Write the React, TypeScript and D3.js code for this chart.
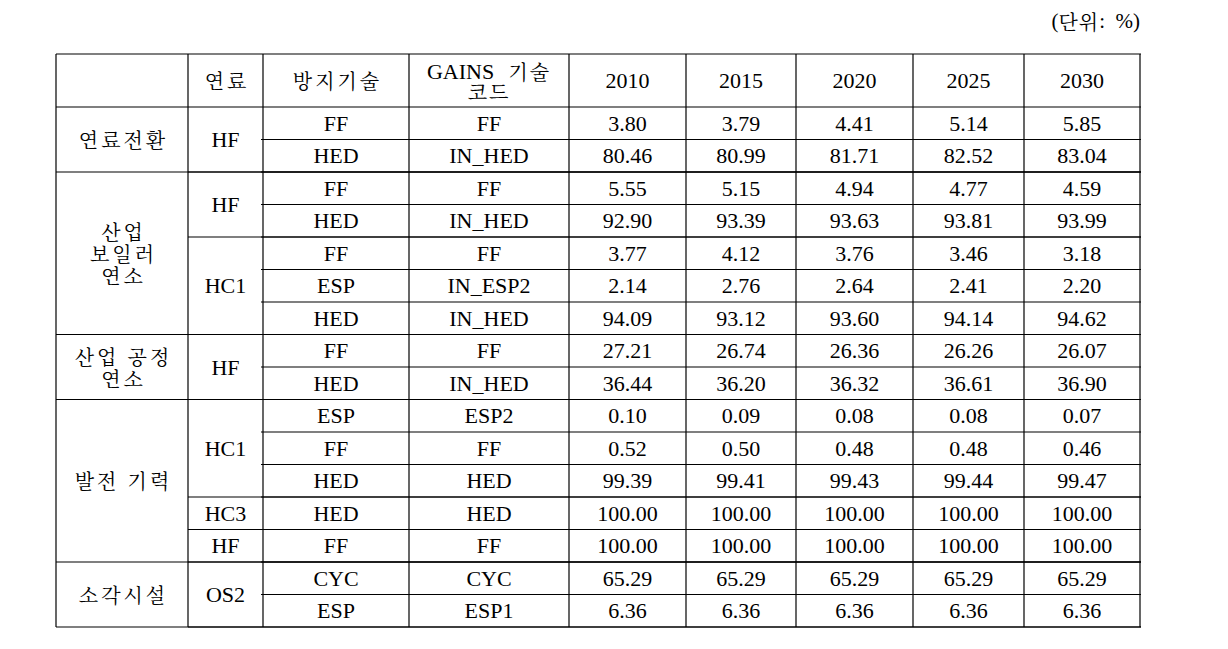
import React from 'react';
import * as d3 from 'd3';

// table content
const headers = ['', '연료', '방지기술', 'GAINS 기술|코드', '2010', '2015', '2020', '2025', '2030'];
const years = ['2010', '2015', '2020', '2025', '2030'];

const groups = [
  {name: ['연료전환'], rows: 2},
  {name: ['산업', '보일러', '연소'], rows: 5},
  {name: ['산업 공정', '연소'], rows: 2},
  {name: ['발전 기력'], rows: 5},
  {name: ['소각시설'], rows: 2},
];

const fuels = [
  {name: 'HF', rows: 2},
  {name: 'HF', rows: 2},
  {name: 'HC1', rows: 3},
  {name: 'HF', rows: 2},
  {name: 'HC1', rows: 3},
  {name: 'HC3', rows: 1},
  {name: 'HF', rows: 1},
  {name: 'OS2', rows: 2},
];

const techs = ['FF', 'HED', 'FF', 'HED', 'FF', 'ESP', 'HED', 'FF', 'HED', 'ESP', 'FF', 'HED', 'HED', 'FF', 'CYC', 'ESP'];
const codes = ['FF', 'IN_HED', 'FF', 'IN_HED', 'FF', 'IN_ESP2', 'IN_HED', 'FF', 'IN_HED', 'ESP2', 'FF', 'HED', 'HED', 'FF', 'CYC', 'ESP1'];

const v2010 = [3.80, 80.46, 5.55, 92.90, 3.77, 2.14, 94.09, 27.21, 36.44, 0.10, 0.52, 99.39, 100, 100, 65.29, 6.36];
const v2015 = [3.79, 80.99, 5.15, 93.39, 4.12, 2.76, 93.12, 26.74, 36.20, 0.09, 0.50, 99.41, 100, 100, 65.29, 6.36];
const v2020 = [4.41, 81.71, 4.94, 93.63, 3.76, 2.64, 93.60, 26.36, 36.32, 0.08, 0.48, 99.43, 100, 100, 65.29, 6.36];
const v2025 = [5.14, 82.52, 4.77, 93.81, 3.46, 2.41, 94.14, 26.26, 36.61, 0.08, 0.48, 99.44, 100, 100, 65.29, 6.36];
const v2030 = [5.85, 83.04, 4.59, 93.99, 3.18, 2.20, 94.62, 26.07, 36.90, 0.07, 0.46, 99.47, 100, 100, 65.29, 6.36];
const values = [v2010, v2015, v2020, v2025, v2030];

const colEdges = [56, 188, 263, 409, 569, 686, 796, 913, 1024, 1140];
const top = 54, headBottom = 107, bottom = 627;

const latin = 'Liberation Serif';
const korean = 'Noto Serif CJK KR';
const koSpacing = 3;

export default function App() {
  const nRows = techs.length;
  const y = d3.scaleLinear().domain([0, nRows]).range([headBottom, bottom]);
  const cx = (i: number) => (colEdges[i] + colEdges[i + 1]) / 2;
  const fmt = d3.format('.2f');

  const lines: any[] = [];
  const texts: any[] = [];

  const isKo = (s: string) => /[\uac00-\ud7a3]/.test(s);
  const kStyle = {fontFamily: korean, fontSize: 20, letterSpacing: koSpacing};
  const lStyle = {fontFamily: latin, fontSize: 22};

  const hline = (key: string, x1: number, x2: number, yy: number) =>
    lines.push(<line key={key} x1={x1} x2={x2} y1={yy} y2={yy} stroke="#000" strokeWidth={1.2} />);

  const cellText = (key: string, x: number, yc: number, parts: string[], lh = 22) => {
    const n = parts.length;
    parts.forEach((p, k) => {
      const ko = isKo(p);
      texts.push(
        <text key={key + '-' + k} x={ko ? x + koSpacing / 2 : x} y={yc + (k - (n - 1) / 2) * lh} textAnchor="middle"
          dominantBaseline="central" fill="#000" style={ko ? kStyle : lStyle}>
          {p}
        </text>
      );
    });
  };

  // header
  headers.forEach((h, i) => {
    if (!h) return;
    if (h.includes('|')) {
      h.split('|').forEach((p, k) => {
        texts.push(
          <text key={'h' + i + '-' + k} x={cx(i)} y={(top + headBottom) / 2 + (k - 0.5) * 20} textAnchor="middle"
            dominantBaseline="central" fill="#000" style={lStyle}>
            {p.split(' ').map((w, j) => (
              <tspan key={j} style={isKo(w) ? {...kStyle, letterSpacing: 2} : lStyle}>{(j > 0 ? '\u00a0\u00a0' : '') + w}</tspan>
            ))}
          </text>
        );
      });
    } else {
      cellText('h' + i, cx(i), (top + headBottom) / 2, [h]);
    }
  });

  // groups column
  let r = 0;
  groups.forEach((g, i) => {
    cellText('g' + i, cx(0), (y(r) + y(r + g.rows)) / 2, g.name);
    r += g.rows;
    hline('gl' + i, colEdges[0], colEdges[9] + 1, y(r));
  });

  // fuel column
  r = 0;
  fuels.forEach((f, i) => {
    cellText('f' + i, cx(1), (y(r) + y(r + f.rows)) / 2, [f.name]);
    r += f.rows;
    hline('fl' + i, colEdges[1], colEdges[9] + 1, y(r));
  });

  // row lines and cells
  techs.forEach((t, i) => {
    const yc = (y(i) + y(i + 1)) / 2;
    cellText('t' + i, cx(2), yc, [t]);
    cellText('c' + i, cx(3), yc, [codes[i]]);
    years.forEach((yr, j) => cellText('v' + i + '-' + yr, cx(4 + j), yc, [fmt(values[j][i])]));
    if (i > 0) hline('rl' + i, colEdges[2] - 2, colEdges[9] + 1, y(i));
  });

  hline('top', colEdges[0], colEdges[9] + 1, top);
  hline('hb', colEdges[0], colEdges[9] + 1, headBottom);
  colEdges.forEach((x, i) =>
    lines.push(<line key={'v' + i} x1={x} x2={x} y1={top} y2={bottom} stroke="#000" strokeWidth={1.2} />));

  return (
    <svg width={1228} height={649} style={{position: 'absolute', left: 0, top: 0}}>
      <rect width={1228} height={649} fill="#fff" />
      <text x={1140} y={21} textAnchor="end" dominantBaseline="central" fill="#000" style={{fontFamily: latin, fontSize: 21}}>
        (<tspan style={{fontFamily: korean, fontSize: 20, letterSpacing: 1}}>단위</tspan>:{'\u00a0\u00a0'}%)
      </text>
      {lines}
      {texts}
    </svg>
  );
}
